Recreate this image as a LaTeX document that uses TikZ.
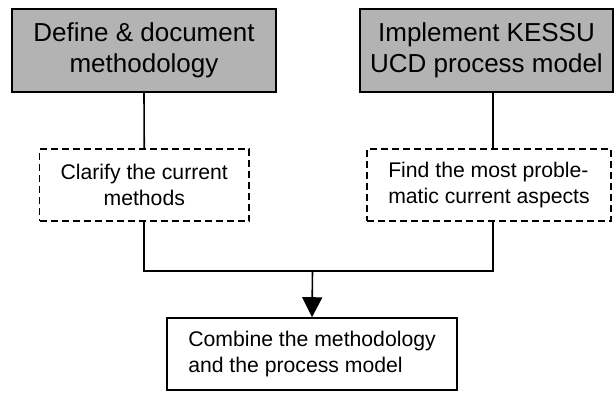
\documentclass[tikz,border=0pt]{standalone}
\usepackage{fontspec}
\setmainfont{Liberation Sans}
\usetikzlibrary{arrows.meta}
\begin{document}
\begin{tikzpicture}[x=1pt,y=-1pt,
  phasebox/.style={draw=black,line width=2pt,fill=boxgray,inner sep=0pt,
    align=center,font=\fontsize{26}{31}\selectfont},
  taskbox/.style={draw=black,line width=1.6pt,dash pattern=on 7pt off 4pt,
    fill=white,inner sep=0pt,font=\fontsize{21.2}{25.5}\selectfont},
  resultbox/.style={draw=black,line width=1.6pt,fill=white,inner sep=0pt,
    align=left,font=\fontsize{21.2}{25.5}\selectfont},
  link/.style={draw=black,line width=1.6pt}]
\definecolor{boxgray}{HTML}{B3B3B3}
\useasboundingbox (0,0) rectangle (616,392);

% the two main phases
\node[phasebox,minimum width=264pt,minimum height=83pt] (define) at (144,50.5)
  {Define \& document\\methodology};
\node[phasebox,minimum width=253pt,minimum height=83pt] (implement) at (486.5,50.5)
  {Implement KESSU\\UCD process model};

% preparatory tasks
\node[taskbox,align=center,minimum width=209.5pt,minimum height=72pt] (clarify) at (144.25,185)
  {Clarify the current\\methods};
\node[taskbox,align=left,minimum width=244pt,minimum height=72pt] (find) at (489,185)
  {Find the most proble-\\matic current aspects};

% outcome
\node[resultbox,minimum width=290pt,minimum height=72pt] (combine) at (312,354)
  {Combine the methodology\\and the process model};

% connectors
\coordinate (join) at (312.5,271);
\draw[link] (define.south) -- (clarify.north);
\draw[link] ([xshift=6.5pt]implement.south) -- ([xshift=4pt]find.north);
\draw[link] (clarify.south) |- (join) -| ([xshift=4pt]find.south);
\draw[link,-{Triangle[width=20pt,length=20pt]}] (join) -- (combine.north);
\end{tikzpicture}
\end{document}
